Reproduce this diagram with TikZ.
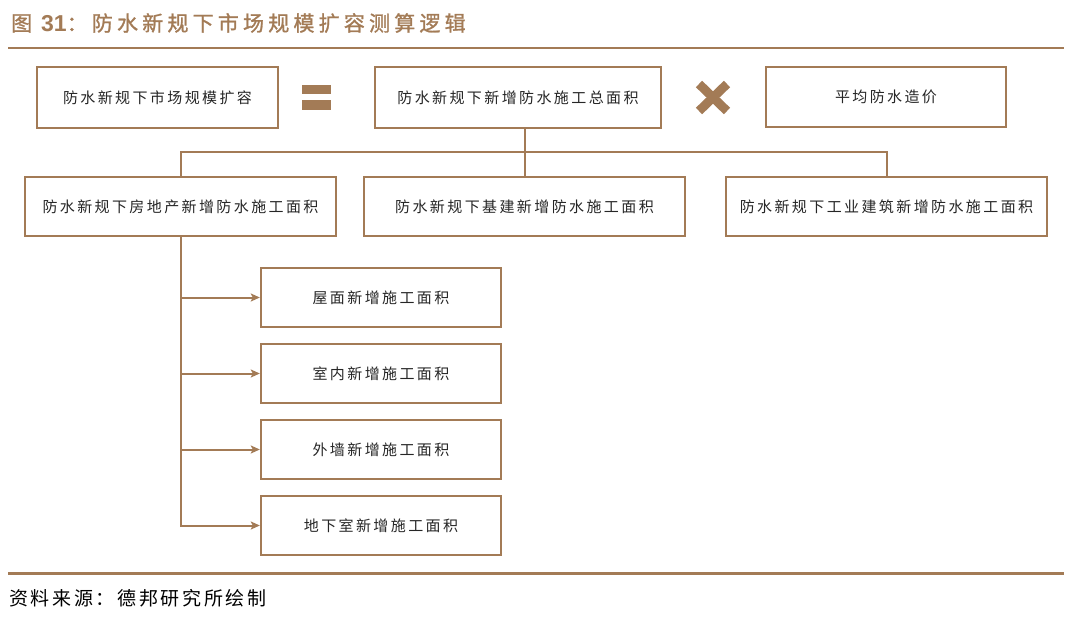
\documentclass[tikz,border=0pt]{standalone}
\usepackage{fontspec}
\usetikzlibrary{arrows.meta}
\newfontfamily\cjk[LetterSpace=16]{Noto Sans CJK SC}
\newfontfamily\cjkt[LetterSpace=20,FakeBold=1.2]{Noto Sans CJK SC}
\newfontfamily\cjks[LetterSpace=14]{Noto Sans CJK SC}
\newfontfamily\lsans{Liberation Sans}
\definecolor{dbbrown}{RGB}{163,123,86}
\tikzset{
  x=1pt, y=-1pt,
  box/.style={draw=dbbrown, line width=2.4pt, inner sep=0pt, fill=white,
    font=\cjk\fontsize{15}{15}\selectfont, text=black!85},
  conn/.style={draw=dbbrown, line width=2pt},
  arr/.style={conn, -{Stealth[length=9pt,width=8pt,inset=2pt]}}
}
\begin{document}
\begin{tikzpicture}
\useasboundingbox (0,0) rectangle (1080,623);
\fill[white] (0,0) rectangle (1080,623);
% title
\node[anchor=west, text=dbbrown, font=\cjkt\fontsize{21}{21}\selectfont, inner sep=0pt] (title) at (11,23)
  {图 {\lsans\bfseries\fontsize{23}{23}\selectfont 31}：防水新规下市场规模扩容测算逻辑};
\draw[dbbrown, line width=2pt] (8,48) -- (1064,48);
\draw[dbbrown, line width=3pt] (8,573) -- (1064,573);
\node[anchor=west, font=\cjks\fontsize{19}{19}\selectfont, inner sep=0pt, text=black] (src) at (9,598)
  {资料来源：德邦研究所绘制};
% row 1
\node[box, minimum width=241pt, minimum height=61pt] (A) at (157.5,97.5) {防水新规下市场规模扩容};
\node[box, minimum width=286pt, minimum height=61pt] (B) at (518,97.5) {防水新规下新增防水施工总面积};
\node[box, minimum width=240pt, minimum height=60pt] (C) at (886,97) {平均防水造价};
% equals
\fill[dbbrown] (302,85) rectangle (331,94);
\fill[dbbrown] (302,100) rectangle (331,110);
% times
\draw[dbbrown, line width=9pt] (699,84) -- (727,111);
\draw[dbbrown, line width=9pt] (699,111) -- (727,84);
% row 2
\node[box, minimum width=311pt, minimum height=59pt] (D) at (180.5,206.5) {防水新规下房地产新增防水施工面积};
\node[box, minimum width=321pt, minimum height=59pt] (E) at (524.5,206.5) {防水新规下基建新增防水施工面积};
\node[box, minimum width=321pt, minimum height=59pt] (F) at (886.5,206.5) {防水新规下工业建筑新增防水施工面积};
% row 3
\node[box, minimum width=240pt, minimum height=59pt] (G) at (381,297.5) {屋面新增施工面积};
\node[box, minimum width=240pt, minimum height=59pt] (H) at (381,373.5) {室内新增施工面积};
\node[box, minimum width=240pt, minimum height=59pt] (I) at (381,449.5) {外墙新增施工面积};
\node[box, minimum width=240pt, minimum height=59pt] (J) at (381,525.5) {地下室新增施工面积};
% connectors
\coordinate (bus) at (524.5,152);
\draw[conn] (B.south -| E.north) -- (E.north);
\draw[conn] (D.north) |- (bus) -| (F.north);
\draw[arr] (D.south) |- (J.west);
\draw[arr] (D.south |- G.west) -- (G.west);
\draw[arr] (D.south |- H.west) -- (H.west);
\draw[arr] (D.south |- I.west) -- (I.west);
\end{tikzpicture}
\end{document}
